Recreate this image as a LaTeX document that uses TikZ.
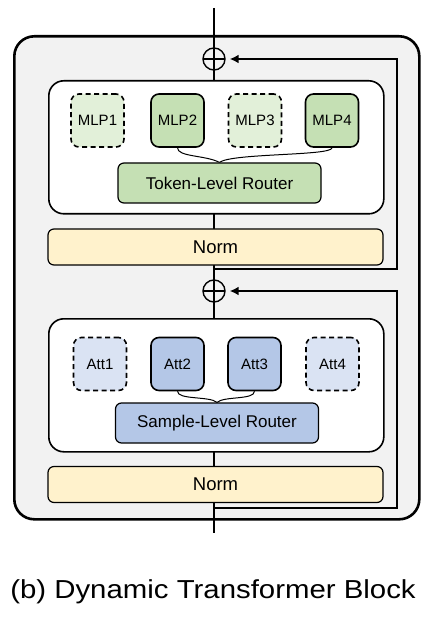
\documentclass[tikz,border=0pt]{standalone}
\usepackage{fontspec}
\setmainfont{Liberation Sans}
\usetikzlibrary{arrows.meta}
\definecolor{outerfill}{HTML}{F2F2F2}
\definecolor{gon}{HTML}{C5E0B4}
\definecolor{goff}{HTML}{E2F0D9}
\definecolor{bon}{HTML}{B4C7E7}
\definecolor{boff}{HTML}{DAE3F3}
\definecolor{normfill}{HTML}{FFF2CC}
\tikzset{
  px/.style={x=1pt,y=-1pt},
  outerbox/.style={draw, line width=2.6pt, fill=outerfill, rounded corners=20pt},
  innerbox/.style={draw, line width=1.6pt, fill=white, rounded corners=15pt},
  expert/.style={draw, line width=1.6pt, rounded corners=8pt, minimum width=53pt, minimum height=53pt, font=\fontsize{15}{18}\selectfont, inner sep=0pt},
  expon/.style={expert},
  expoff/.style={expert, dashed, dash pattern=on 5pt off 3.5pt},
  router/.style={draw, line width=1.2pt, rounded corners=6pt, minimum width=203pt, minimum height=40pt, font=\fontsize{17}{20}\selectfont, inner sep=0pt},
  normbox/.style={draw, line width=1.2pt, rounded corners=6pt, fill=normfill, minimum width=335pt, minimum height=36pt, font=\fontsize{18.5}{22}\selectfont, inner sep=0pt},
  oplusnode/.style={circle, draw, line width=1.4pt, minimum size=22pt, inner sep=0pt,
    path picture={\draw[line width=1.4pt] (path picture bounding box.west) -- (path picture bounding box.east);}},
  mainline/.style={line width=2.6pt},
  fbline/.style={line width=2.6pt, -{Latex[length=9pt,width=9pt]}, shorten >=4pt},
  brace/.style={line width=1pt},
}
\begin{document}
\begin{tikzpicture}[px]
\useasboundingbox (0,0) rectangle (433,617);
% outer block
\node[outerbox, minimum width=405pt, minimum height=483pt, anchor=north west] (outer) at (13,35) {};
% main line
\coordinate (top) at (214,8);
\coordinate (bot) at (214,533);
\draw[mainline] (top) -- (bot);
% oplus nodes
\node[oplusnode] (op1) at (214,59) {};
\node[oplusnode] (op2) at (214,291) {};
% feedback paths
\coordinate (f1a) at (214,269);
\coordinate (f1b) at (397,269);
\coordinate (f1c) at (397,59);
\draw[fbline] (f1a) -- (f1b) -- (f1c) -- (op1.east);
\coordinate (f2a) at (214,508);
\coordinate (f2b) at (397,508);
\coordinate (f2c) at (397,291);
\draw[fbline] (f2a) -- (f2b) -- (f2c) -- (op2.east);
% upper inner box
\node[innerbox, minimum width=335pt, minimum height=133pt, anchor=north west] (in1) at (48,80) {};
\node[expoff, fill=goff] (m1) at (97.5,120.5) {MLP1};
\node[expon, fill=gon] (m2) at (177.5,120.5) {MLP2};
\node[expoff, fill=goff] (m3) at (255,120.5) {MLP3};
\node[expon, fill=gon] (m4) at (332,120.5) {MLP4};
\node[router, fill=gon] (r1) at (219.5,183) {Token-Level Router};
\draw[brace] (m2.south) .. controls (177.5,157) and (205,155) .. (r1.north);
\draw[brace] (m4.south) .. controls (332,156) and (232,153) .. (r1.north);
% norm 1
\node[normbox] (n1) at (215.5,247) {Norm};
% lower inner box
\node[innerbox, minimum width=335pt, minimum height=133pt, anchor=north west] (in2) at (48,318) {};
\node[expoff, fill=boff] (a1) at (100,364) {Att1};
\node[expon, fill=bon] (a2) at (177.5,364) {Att2};
\node[expon, fill=bon] (a3) at (254.5,364) {Att3};
\node[expoff, fill=boff] (a4) at (332.5,364) {Att4};
\node[router, fill=bon] (r2) at (217,423) {Sample-Level Router};
\draw[brace] (a2.south) .. controls (177.5,400) and (210,396) .. (r2.north);
\draw[brace] (a3.south) .. controls (254.5,400) and (224,396) .. (r2.north);
% norm 2
\node[normbox] (n2) at (215.5,484.5) {Norm};
% caption
\node[anchor=base, font=\fontsize{26}{30}\selectfont] (cap) at (213,598) {\scalebox{1.13}[1]{(b) Dynamic Transformer Block}};
\end{tikzpicture}
\end{document}
